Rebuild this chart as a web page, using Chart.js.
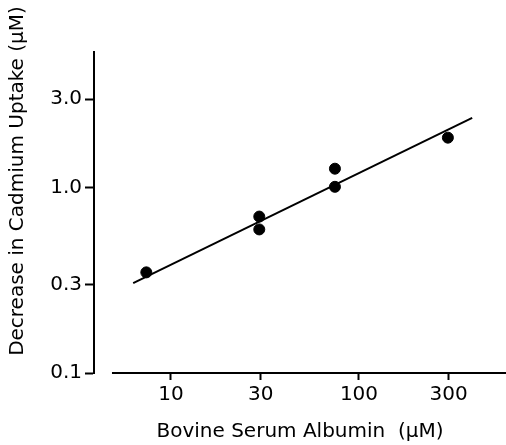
<!DOCTYPE html>
<html>
<head>
<meta charset="utf-8">
<script src="https://cdn.jsdelivr.net/npm/chart.js@4"></script>
<style>
  body { margin: 0; background: #fff; }
  #chartCanvas { display: block; }
</style>
</head>
<body>
<canvas id="chartCanvas" width="506" height="445"></canvas>
<script>
// measured points
var bsaConc = [7.4, 29.5, 29.5, 74.5, 74.5, 297];
var cdDecrease = [0.349, 0.698, 0.595, 1.265, 1.01, 1.86];

// fitted line ends
var fitX = [6.3, 400];
var fitY = [0.305, 2.38];

var xTicks = [10, 30, 100, 300];
var xLabels = ['10', '30', '100', '300'];
var yTicks = [0.1, 0.3, 1.0, 3.0];
var yLabels = ['0.1', '0.3', '1.0', '3.0'];

var xAxisFrom = 4.86;
var yTitle = 'Decrease in Cadmium Uptake (μM)';
var fontFamily = "'DejaVu Sans', sans-serif";

var ctx = document.getElementById('chartCanvas').getContext('2d');

// x axis line starts a little right of the y axis, as in the original;
// the y title sits higher than the axis centre, so it is drawn here too
var axisExtras = {
    id: 'axisExtras',
    afterDraw: function (chart) {
        var x = chart.scales.x, y = chart.scales.y;
        var c = chart.ctx;
        var py = y.getPixelForValue(y.min);
        c.save();
        c.strokeStyle = '#000';
        c.lineWidth = 2;
        c.beginPath();
        c.moveTo(x.getPixelForValue(xAxisFrom), py);
        c.lineTo(chart.chartArea.right, py);
        c.stroke();

        c.translate(18, 181);
        c.rotate(-Math.PI / 2);
        c.fillStyle = '#000';
        c.font = '20px ' + fontFamily;
        c.textAlign = 'center';
        c.textBaseline = 'middle';
        c.fillText(yTitle, 0, 0);
        c.restore();
    }
};

var pointData = bsaConc.map(function (v, i) { return { x: v, y: cdDecrease[i] }; });
var fitData = fitX.map(function (v, i) { return { x: v, y: fitY[i] }; });

var myChart = new Chart(ctx, {
    type: 'scatter',
    data: {
        datasets: [{
            label: 'fit',
            type: 'line',
            data: fitData,
            borderColor: '#000',
            borderWidth: 2,
            pointRadius: 0,
            fill: false
        }, {
            label: 'data',
            data: pointData,
            backgroundColor: '#000',
            borderColor: '#000',
            pointRadius: 5.5,
            pointHoverRadius: 5.5
        }]
    },
    options: {
        responsive: false,
        animation: false,
        layout: { autoPadding: false, padding: { top: 52, right: 0, left: 0, bottom: 0 } },
        plugins: {
            legend: { display: false },
            tooltip: { enabled: false }
        },
        scales: {
            x: {
                type: 'logarithmic',
                min: 3.9,
                max: 605,
                afterFit: function (scale) {
                    scale.height = 72;
                    scale.paddingLeft = 0;
                    scale.paddingRight = 0;
                },
                afterBuildTicks: function (scale) {
                    scale.ticks = xTicks.map(function (v) { return { value: v }; });
                },
                border: { display: false },
                grid: {
                    drawOnChartArea: false,
                    drawTicks: true,
                    tickLength: 7,
                    tickWidth: 2,
                    color: '#000'
                },
                ticks: {
                    color: '#000',
                    padding: 3,
                    maxRotation: 0,
                    autoSkip: false,
                    font: { family: fontFamily, size: 20 },
                    callback: function (value, index) { return xLabels[index]; }
                },
                title: {
                    display: true,
                    text: 'Bovine Serum Albumin  (μM)',
                    color: '#000',
                    font: { family: fontFamily, size: 20 },
                    padding: { top: 0, bottom: 1 }
                }
            },
            y: {
                type: 'logarithmic',
                min: 0.1,
                max: 5.39,
                afterFit: function (scale) {
                    scale.width = 94;
                    scale.paddingTop = 0;
                    scale.paddingBottom = 0;
                },
                afterBuildTicks: function (scale) {
                    scale.ticks = yTicks.map(function (v) { return { value: v }; });
                },
                border: { display: true, color: '#000', width: 2 },
                grid: {
                    drawOnChartArea: false,
                    drawTicks: true,
                    tickLength: 9,
                    tickWidth: 2,
                    color: '#000'
                },
                ticks: {
                    color: '#000',
                    padding: 3,
                    autoSkip: false,
                    font: { family: fontFamily, size: 20 },
                    callback: function (value, index) { return yLabels[index]; }
                },
                title: { display: false }
            }
        }
    },
    plugins: [axisExtras]
});
</script>
</body>
</html>
